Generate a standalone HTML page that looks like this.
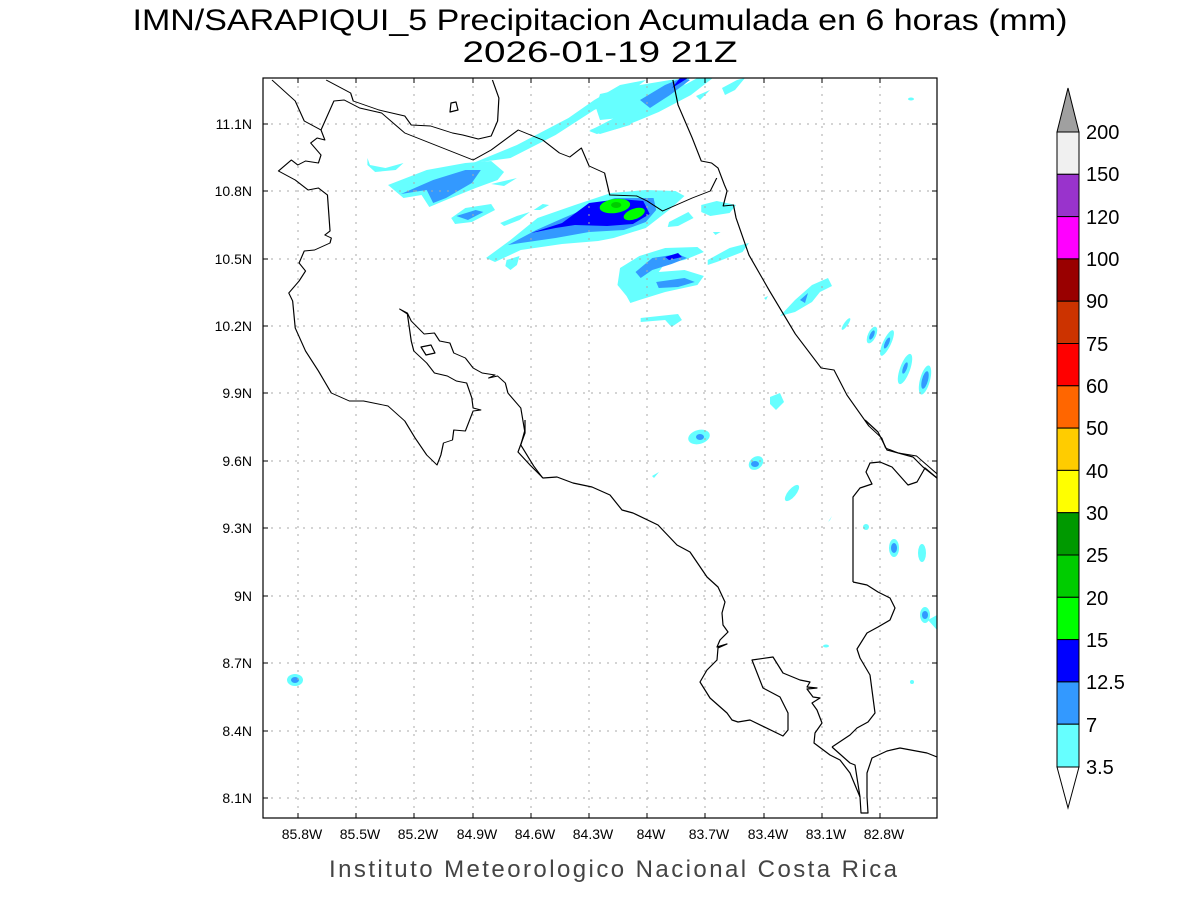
<!DOCTYPE html>
<html><head><meta charset="utf-8"><style>
html,body{margin:0;padding:0;background:#fff;overflow:hidden}
svg{display:block}
text{font-family:"Liberation Sans",sans-serif;fill:#000}
</style></head><body>
<svg width="1200" height="900" viewBox="0 0 1200 900" xmlns="http://www.w3.org/2000/svg">
<text x="600" y="30" font-size="30" text-anchor="middle" textLength="935" lengthAdjust="spacingAndGlyphs">IMN/SARAPIQUI_5 Precipitacion Acumulada en 6 horas (mm)</text>
<text x="600" y="62" font-size="30" text-anchor="middle" textLength="275" lengthAdjust="spacingAndGlyphs">2026-01-19 21Z</text>

<defs><clipPath id="c"><rect x="263" y="78" width="674" height="740"/></clipPath></defs>
<g clip-path="url(#c)">
<g stroke="none" transform="translate(263,0) scale(1.289,1) translate(-263,0)">
<path fill="#66ffff" d="M426,163 L460,145 L500,118 L520,100 L540,85 L560,80 L548,92 L520,110 L490,135 L455,158 Z"/>
<path fill="#66ffff" d="M516,131 L540,115 L565,100 L590,85 L600,78 L612,78 L595,95 L570,112 L540,128 L522,134 Z"/>
<path fill="#66ffff" d="M360,185 L390,170 L420,163 L440,161 L450,172 L445,180 L428,188 L405,200 L392,207 L386,195 L372,198 Z"/>
<path fill="#3399ff" d="M370,194 L395,180 L420,170 L432,170 L425,183 L405,198 L395,203 L390,190 Z"/>
<path fill="#66ffff" d="M440,184 L460,178 L450,186 Z"/>
<path fill="#66ffff" d="M344,158 L346,165 L358,168 L372,163 L366,170 L350,172 L344,165 Z"/>
<path fill="#66ffff" d="M409,218 L420,208 L440,204 L443,210 L425,222 L412,224 Z"/>
<path fill="#3399ff" d="M413,216 L428,210 L434,212 L422,220 Z"/>
<path fill="#66ffff" d="M436,258 L455,240 L476,218 L505,205 L533,193 L560,190 L583,191 L590,196 L578,210 L560,228 L535,238 L523,241 L495,244 L463,250 L443,262 Z"/>
<path fill="#3399ff" d="M453,245 L475,230 L496,218 L520,205 L536,198 L566,198 L568,210 L560,222 L543,230 L516,232 L490,238 L463,243 Z"/>
<path fill="#0000ff" d="M471,233 L495,223 L516,203 L540,199 L558,201 L563,214 L550,224 L530,226 L505,225 L490,228 Z"/>
<ellipse cx="536" cy="206" rx="12" ry="7" fill="#00ff00" transform="rotate(-12 536 206)"/>
<ellipse cx="537" cy="205" rx="4" ry="3" fill="#00cc00"/>
<ellipse cx="551" cy="214" rx="9" ry="5" fill="#00ff00" transform="rotate(-30 551 214)"/>
<path fill="#66ffff" d="M447,223 L460,216 L470,212 L462,220 L450,226 Z M473,210 L480,204 L485,205 L478,210 Z"/>
<path fill="#66ffff" d="M578,222 L593,212 L597,218 L585,226 L577,227 Z"/>
<path fill="#66ffff" d="M603,205 L615,201 L630,205 L625,213 L610,216 L603,212 Z"/>
<path fill="#66ffff" d="M452,260 L462,256 L460,265 L455,270 L451,266 Z"/>
<path fill="#66ffff" d="M540,268 L555,256 L575,248 L600,247 L605,252 L590,260 L575,263 L570,272 L590,270 L605,276 L600,285 L575,292 L555,300 L548,303 L545,296 L538,285 Z"/>
<path fill="#3399ff" d="M552,272 L565,258 L585,254 L592,258 L580,264 L565,270 L556,278 Z M568,282 L590,278 L598,282 L585,287 L570,288 Z"/>
<path fill="#0000ff" d="M575,257 L585,253 L588,257 L578,260 Z"/>
<path fill="#66ffff" d="M556,318 L585,314 L588,320 L580,327 L575,320 L556,322 Z"/>
<path fill="#66ffff" d="M608,260 L625,248 L640,243 L635,252 L615,262 L608,265 Z"/>
<path fill="#66ffff" d="M612,232 L618,232 L614,235 Z"/>
</g>
<g stroke="none">
<path fill="#66ffff" d="M600,94 L640,85 L670,80 L690,78 L680,90 L650,105 L620,118 L600,120 L596,108 Z"/>
<path fill="#3399ff" d="M640,100 L665,85 L682,78 L690,80 L670,95 L650,108 Z"/>
<path fill="#0000ff" d="M672,88 L680,78 L688,78 Z"/>
<path fill="#66ffff" d="M590,130 L620,118 L640,112 L630,125 L600,134 Z"/>
<path fill="#66ffff" d="M696,96 L710,90 L700,100 Z M722,88 L737,80 L745,78 L735,90 L725,95 Z"/>
<ellipse cx="872" cy="335" rx="4" ry="9" fill="#66ffff" transform="rotate(25 872 335)"/>
<ellipse cx="872" cy="335" rx="2" ry="5" fill="#3399ff" transform="rotate(25 872 335)"/>
<ellipse cx="887" cy="343" rx="4" ry="14" fill="#66ffff" transform="rotate(25 887 343)"/>
<ellipse cx="887" cy="343" rx="2" ry="6" fill="#3399ff" transform="rotate(25 887 343)"/>
<ellipse cx="905" cy="369" rx="5" ry="16" fill="#66ffff" transform="rotate(20 905 369)"/>
<ellipse cx="905" cy="368" rx="2" ry="6" fill="#3399ff" transform="rotate(20 905 368)"/>
<ellipse cx="925" cy="380" rx="5" ry="15" fill="#66ffff" transform="rotate(15 925 380)"/>
<ellipse cx="925" cy="380" rx="3" ry="9" fill="#3399ff" transform="rotate(15 925 380)"/>
<ellipse cx="846" cy="324" rx="2" ry="7" fill="#66ffff" transform="rotate(35 846 324)"/>
<path fill="#66ffff" d="M780,316 L795,300 L812,285 L828,278 L832,286 L820,292 L812,302 L795,312 Z"/>
<path fill="#3399ff" d="M800,300 L808,293 L805,303 Z"/>
<path fill="#66ffff" d="M764,298 L768,296 L766,300 Z"/>
<path fill="#66ffff" d="M654,478 L659,472 L652,476 Z"/>
<path fill="#66ffff" d="M770,397 L780,393 L784,402 L776,410 L770,404 Z"/>
<ellipse cx="699" cy="437" rx="11" ry="7" fill="#66ffff" transform="rotate(-15 699 437)"/>
<ellipse cx="700" cy="437" rx="4" ry="3" fill="#3399ff"/>
<ellipse cx="756" cy="463" rx="8" ry="6" fill="#66ffff" transform="rotate(-40 756 463)"/>
<ellipse cx="755" cy="464" rx="4" ry="3" fill="#3399ff"/>
<ellipse cx="792" cy="493" rx="10" ry="4" fill="#66ffff" transform="rotate(-50 792 493)"/>
<path fill="#66ffff" d="M830,520 L832,516 L828,522 Z"/>
<ellipse cx="866" cy="527" rx="3" ry="3" fill="#66ffff"/>
<ellipse cx="894" cy="548" rx="5" ry="9" fill="#66ffff"/>
<ellipse cx="894" cy="548" rx="3" ry="5" fill="#3399ff"/>
<ellipse cx="922" cy="553" rx="4" ry="9" fill="#66ffff"/>
<ellipse cx="925" cy="615" rx="5" ry="8" fill="#66ffff"/>
<ellipse cx="925" cy="615" rx="3" ry="4" fill="#3399ff"/>
<path fill="#66ffff" d="M928,620 L937,615 L937,630 Z"/>
<ellipse cx="912" cy="682" rx="2" ry="2" fill="#66ffff"/>
<ellipse cx="826" cy="646" rx="3" ry="1.5" fill="#66ffff"/>
<ellipse cx="295" cy="680" rx="8" ry="6" fill="#66ffff"/>
<ellipse cx="295" cy="680" rx="4" ry="3" fill="#3399ff"/>
<ellipse cx="911" cy="99" rx="3" ry="1.5" fill="#66ffff"/>
</g>
<g stroke="#aaa" stroke-width="1" stroke-dasharray="2,6" fill="none">
<path d="M298,78V818 M356,78V818 M414,78V818 M473,78V818 M531,78V818 M589,78V818 M647,78V818 M705,78V818 M764,78V818 M822,78V818 M880,78V818"/>
<path d="M263,124H937 M263,191H937 M263,259H937 M263,326H937 M263,393H937 M263,461H937 M263,528H937 M263,596H937 M263,663H937 M263,731H937 M263,798H937"/>
</g>
<g fill="none" stroke="#000" stroke-linejoin="round" transform="translate(263,0) scale(1.289,1) translate(-263,0)">
<g stroke-width="0.93">
<path d="M270,80 L288,101 L295,121 L308,130 L318,101 L326,100 L338,108 L355,113 L373,133 L426,160 L440,150 L461,130 L480,140 L493,153 L501,157 L510,148 L516,166 L528,173 L532,195 L553,196 L561,201 L573,211 L596,198 L610,191 L615,178"/>
<path d="M312,80 L331,93 L333,101 L353,110 L373,116 L378,125 L393,126 L410,133 L418,135 L430,139 L440,136 L445,121 L446,98 L441,80"/>
<path d="M581,80 L585,105 L596,138 L603,161 L611,163 L616,168 L621,185 L623,191 L620,206 L628,205 L630,218 L640,255 L656,291 L676,334 L696,368 L706,370 L716,395 L733,426 L743,438 L746,448 L756,453 L770,456 L786,474"/>
<path d="M308,130 L311,140 L305,138 L300,143 L308,155 L306,163 L296,161 L290,165 L285,160 L275,171 L288,180 L298,190 L306,188 L313,195 L315,231 L311,235 L316,238 L315,243 L303,250 L295,251 L291,263 L296,271 L291,281 L283,293 L286,301 L288,328 L296,351 L306,371 L316,393 L330,401 L341,401 L360,406 L373,421 L381,438 L390,455 L398,465 L401,455 L403,443 L410,440 L411,430 L420,431 L426,411 L432,410 L426,408 L425,398 L421,383 L413,381 L406,376 L396,373 L390,363 L380,351 L378,341 L375,314 L369,309 L375,313 L378,321 L388,334 L396,333 L400,341 L408,343 L411,353 L420,358 L426,368 L433,373 L443,375 L438,378 L445,376 L451,383 L453,393 L463,408 L466,431 L463,445 L473,466 L480,478"/>
</g>
</g>
<g stroke="#000" stroke-width="1.2" fill="none" stroke-linejoin="round">
<path d="M525,420 L525,433 L518,452 L530,465 L543,478 L557,477 L573,483 L592,487 L610,495 L622,510 L633,513 L658,525 L677,545 L690,552 L707,577 L718,587 L725,602 L722,613 L723,625 L728,632 L720,640 L717,647 L727,644 L718,648 L717,660 L707,670 L700,682 L710,698 L727,713 L732,720 L738,722 L750,720 L783,736 L788,730 L788,713 L780,697 L763,688 L752,660 L773,657 L783,673 L800,680 L810,682 L807,687 L817,688 L807,689 L813,697 L820,698 L812,703 L817,710 L822,723 L815,733 L814,743 L830,755 L840,760 L850,773 L860,797 L861,813 L868,813 L867,797 L867,773 L872,758 L887,751 L900,748 L927,753 L937,757"/>
<path d="M832,747 L850,763 L855,765 L860,797"/>
<path d="M853,582 L853,497 L860,488 L872,484 L866,472 L870,463 L880,462 L892,467 L908,485 L917,482 L925,468 L937,478"/>
<path d="M853,582 L867,585 L878,592 L890,598 L895,608 L890,620 L878,627 L867,633 L857,649 L860,658 L870,675 L875,713 L868,722 L857,728 L850,735 L832,747"/>
<path d="M865,420 L878,432 L887,450 L913,457 L923,467 L937,478"/>
<path d="M451,103 L456,102 L458,110 L450,112 Z"/>
<path d="M421,347 L431,345 L435,353 L426,355 Z"/>
</g>
</g>
<rect x="263" y="78" width="674" height="740" fill="none" stroke="#000" stroke-width="1.2"/>

<g stroke="#000" stroke-width="1">
<path d="M263,124h5 M263,191h5 M263,259h5 M263,326h5 M263,393h5 M263,461h5 M263,528h5 M263,596h5 M263,663h5 M263,731h5 M263,798h5 M937,124h-5 M937,191h-5 M937,259h-5 M937,326h-5 M937,393h-5 M937,461h-5 M937,528h-5 M937,596h-5 M937,663h-5 M937,731h-5 M937,798h-5"/>
<path d="M298,818v-5 M356,818v-5 M414,818v-5 M473,818v-5 M531,818v-5 M589,818v-5 M647,818v-5 M705,818v-5 M764,818v-5 M822,818v-5 M880,818v-5 M298,78v5 M356,78v5 M414,78v5 M473,78v5 M531,78v5 M589,78v5 M647,78v5 M705,78v5 M764,78v5 M822,78v5 M880,78v5"/>
</g>
<g font-size="14" text-anchor="end">
<text x="252" y="129">11.1N</text><text x="252" y="196">10.8N</text><text x="252" y="264">10.5N</text><text x="252" y="331">10.2N</text><text x="252" y="398">9.9N</text><text x="252" y="466">9.6N</text><text x="252" y="533">9.3N</text><text x="252" y="601">9N</text><text x="252" y="668">8.7N</text><text x="252" y="736">8.4N</text><text x="252" y="803">8.1N</text>
</g>
<g font-size="14" text-anchor="middle">
<text x="302" y="839">85.8W</text><text x="360" y="839">85.5W</text><text x="418" y="839">85.2W</text><text x="477" y="839">84.9W</text><text x="535" y="839">84.6W</text><text x="593" y="839">84.3W</text><text x="651" y="839">84W</text><text x="709" y="839">83.7W</text><text x="768" y="839">83.4W</text><text x="826" y="839">83.1W</text><text x="884" y="839">82.8W</text>
</g>
<text x="613" y="877" font-size="24" text-anchor="middle" style="fill:#444" textLength="568" lengthAdjust="spacing">Instituto Meteorologico Nacional Costa Rica</text>

<g stroke="#000" stroke-width="1">
<path d="M1057,132 L1068,88 L1079,132 Z" fill="#a0a0a0"/>
<rect x="1057" y="132" width="22" height="42.3" fill="#f0f0f0"/>
<rect x="1057" y="174.3" width="22" height="42.3" fill="#9933cc"/>
<rect x="1057" y="216.6" width="22" height="42.3" fill="#ff00ff"/>
<rect x="1057" y="258.9" width="22" height="42.3" fill="#990000"/>
<rect x="1057" y="301.2" width="22" height="42.3" fill="#cc3300"/>
<rect x="1057" y="343.5" width="22" height="42.3" fill="#ff0000"/>
<rect x="1057" y="385.8" width="22" height="42.3" fill="#ff6600"/>
<rect x="1057" y="428.1" width="22" height="42.3" fill="#ffcc00"/>
<rect x="1057" y="470.4" width="22" height="42.3" fill="#ffff00"/>
<rect x="1057" y="512.7" width="22" height="42.3" fill="#009900"/>
<rect x="1057" y="555" width="22" height="42.3" fill="#00cc00"/>
<rect x="1057" y="597.3" width="22" height="42.3" fill="#00ff00"/>
<rect x="1057" y="639.6" width="22" height="42.3" fill="#0000ff"/>
<rect x="1057" y="681.9" width="22" height="42.3" fill="#3399ff"/>
<rect x="1057" y="724.2" width="22" height="42.8" fill="#66ffff"/>
<path d="M1057,767 L1068,808 L1079,767 Z" fill="#fff"/>
</g>
<g font-size="20">
<text x="1086" y="139">200</text><text x="1086" y="181">150</text><text x="1086" y="224">120</text><text x="1086" y="266">100</text><text x="1086" y="308">90</text><text x="1086" y="351">75</text><text x="1086" y="393">60</text><text x="1086" y="435">50</text><text x="1086" y="478">40</text><text x="1086" y="520">30</text><text x="1086" y="562">25</text><text x="1086" y="605">20</text><text x="1086" y="647">15</text><text x="1086" y="689">12.5</text><text x="1086" y="732">7</text><text x="1086" y="774">3.5</text>
</g>
</svg>
</body></html>
